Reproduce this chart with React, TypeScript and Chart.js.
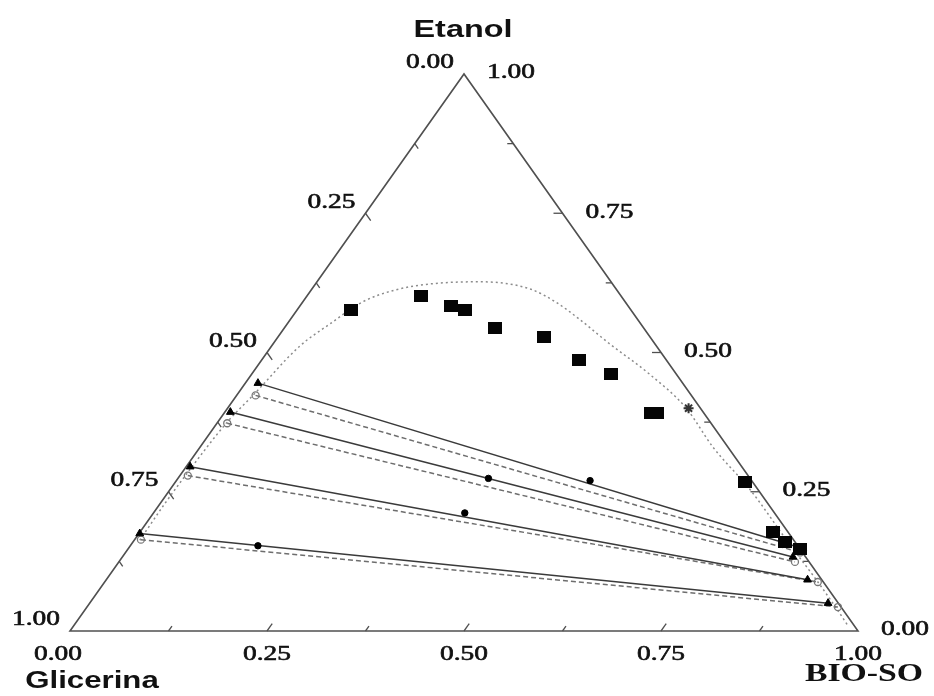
import React, { useEffect, useRef } from "react";
import { Chart, registerables } from "chart.js";
Chart.register(...registerables);

// Compositions are mass fractions: B = BIO-SO, E = Etanol (Glicerina = 1 - B - E)
const binodalExpB = [0.068, 0.144, 0.192, 0.213, 0.267, 0.337, 0.403, 0.456, 0.542, 0.550, 0.722, 0.803, 0.827, 0.852];
const binodalExpE = [0.577, 0.602, 0.584, 0.577, 0.544, 0.528, 0.486, 0.461, 0.391, 0.391, 0.268, 0.178, 0.160, 0.148];

const binodalCurveB = [0.007, 0.006, 0.007, 0.012, 0.021, 0.036, 0.054, 0.076, 0.106, 0.145, 0.207, 0.277, 0.322, 0.369, 0.425, 0.505, 0.582, 0.651, 0.737, 0.837, 0.898, 0.948, 0.983];
const binodalCurveE = [0.163, 0.230, 0.282, 0.375, 0.425, 0.512, 0.551, 0.591, 0.612, 0.623, 0.627, 0.614, 0.590, 0.558, 0.517, 0.461, 0.400, 0.330, 0.253, 0.154, 0.095, 0.045, 0.009];

// experimental tie lines (solid, filled triangles)
const tieExpLeftB = [0.016, 0.007, 0.005, 0.001];
const tieExpLeftE = [0.445, 0.393, 0.295, 0.175];
const tieExpRightB = [0.856, 0.851, 0.890, 0.937];
const tieExpRightE = [0.148, 0.133, 0.092, 0.050];

// calculated tie lines (dashed, open circles)
const tieCalcLeftB = [0.024, 0.013, 0.010, 0.008];
const tieCalcLeftE = [0.423, 0.373, 0.279, 0.164];
const tieCalcRightB = [0.856, 0.858, 0.905, 0.953];
const tieCalcRightE = [0.141, 0.124, 0.088, 0.043];

// overall (feed) compositions
const feedB = [0.525, 0.394, 0.395, 0.162];
const feedE = [0.270, 0.274, 0.212, 0.153];

// plait point
const plaitB = [0.585];
const plaitE = [0.400];

const tickValues = [0, 0.25, 0.5, 0.75, 1];
const tickLabels = ["0.00", "0.25", "0.50", "0.75", "1.00"];
const minorTickValues = [0.125, 0.375, 0.625, 0.875];
const axisTitles = ["Etanol", "Glicerina", "BIO-SO"];

const toXY = (b: number, e: number) => ({ x: b + e / 2, y: e });
const pts = (B: number[], E: number[]) => B.map((b, i) => toXY(b, E[i]));

function drawText(ctx: CanvasRenderingContext2D, text: string, cx: number, cy: number, font: string, sx: number, color = "#1c1c1c", stroke = 0) {
  ctx.save();
  ctx.translate(cx, cy);
  ctx.scale(sx, 1);
  ctx.font = font;
  ctx.fillStyle = color;
  ctx.textAlign = "center";
  ctx.textBaseline = "middle";
  ctx.fillText(text, 0, 0);
  if (stroke > 0) {
    ctx.strokeStyle = color;
    ctx.lineWidth = stroke;
    ctx.strokeText(text, 0, 0);
  }
  ctx.restore();
}

const ternaryPlugin = {
  id: "ternary",
  beforeDatasetsDraw(chart: any) {
    const { ctx } = chart;
    const xs = chart.scales.x, ys = chart.scales.y;
    const P = (b: number, e: number) => [xs.getPixelForValue(b + e / 2), ys.getPixelForValue(e)];
    ctx.save();
    ctx.strokeStyle = "#505050";
    ctx.lineWidth = 1.6;
    ctx.beginPath();
    const a = P(0, 0), b = P(1, 0), c = P(0, 1);
    ctx.moveTo(a[0], a[1]);
    ctx.lineTo(b[0], b[1]);
    ctx.lineTo(c[0], c[1]);
    ctx.closePath();
    ctx.stroke();
    const tick = (p0: number[], p1: number[], len: number) => {
      const dx = p1[0] - p0[0], dy = p1[1] - p0[1];
      const n = Math.hypot(dx, dy);
      ctx.beginPath();
      ctx.moveTo(p0[0], p0[1]);
      ctx.lineTo(p0[0] + (dx / n) * len, p0[1] + (dy / n) * len);
      ctx.stroke();
    };
    ctx.lineWidth = 1.3;
    const all = [...tickValues.slice(1, -1).map((v) => [v, 9]), ...minorTickValues.map((v) => [v, 6])];
    all.forEach(([v, len]) => {
      tick(P(v, 0), P(v, 0.05), len);
      tick(P(0, 1 - v), P(0.05, 1 - v - 0.05), len);
      tick(P(1 - v, v), P(1 - v - 0.05, v), len);
    });
    ctx.restore();
  },
  afterDraw(chart: any) {
    const { ctx } = chart;
    const xs = chart.scales.x, ys = chart.scales.y;
    const P = (b: number, e: number) => [xs.getPixelForValue(b + e / 2), ys.getPixelForValue(e)];
    const numFont = "20px 'Liberation Serif', 'DejaVu Serif', serif";
    tickValues.forEach((v, i) => {
      const lbl = tickLabels[i];
      const l = P(0, 1 - v);
      drawText(ctx, lbl, l[0] - 34, l[1] - 11, numFont, 1.37, "#111", 0.6);
      const r = P(1 - v, v);
      drawText(ctx, lbl, r[0] + 47, r[1] - 1, numFont, 1.37, "#111", 0.6);
      const bt = P(v, 0);
      drawText(ctx, lbl, bt[0] + (v === 0 ? -12 : 0), bt[1] + 24, numFont, 1.37, "#111", 0.6);
    });
    const top = P(0, 1), gl = P(0, 0), bs = P(1, 0);
    drawText(ctx, axisTitles[0], top[0] - 1, top[1] - 44, "bold 24px 'Liberation Sans', Arial, sans-serif", 1.35, "#111");
    drawText(ctx, axisTitles[1], gl[0] + 22, gl[1] + 50, "bold 24px 'Liberation Sans', Arial, sans-serif", 1.3, "#111");
    drawText(ctx, axisTitles[2], bs[0] + 6, bs[1] + 44, "bold 25px 'Liberation Serif', 'Times New Roman', serif", 1.35, "#111");
  },
};

function makeSquare() {
  const c = document.createElement("canvas");
  c.width = 14;
  c.height = 12;
  const g = c.getContext("2d")!;
  g.fillStyle = "#050505";
  g.fillRect(0, 0, 14, 12);
  return c;
}

export default function App() {
  const ref = useRef<HTMLCanvasElement | null>(null);
  useEffect(() => {
    document.body.style.margin = "0";
    const square = makeSquare();
    const datasets: any[] = [];
    datasets.push({
      label: "binodal",
      data: pts(binodalCurveB, binodalCurveE),
      showLine: true,
      borderColor: "#8c8c8c",
      borderWidth: 1.5,
      borderDash: [2, 3],
      pointRadius: 0,
      cubicInterpolationMode: "monotone",
      order: 10,
    });
    tieExpLeftB.forEach((_, i) => {
      datasets.push({
        label: "tieExp" + i,
        data: [toXY(tieExpLeftB[i], tieExpLeftE[i]), toXY(tieExpRightB[i], tieExpRightE[i])],
        showLine: true,
        borderColor: "#3a3a3a",
        borderWidth: 1.5,
        pointStyle: "triangle",
        pointRadius: 4.5,
        pointBackgroundColor: "#000",
        pointBorderColor: "#000",
        pointBorderWidth: 1,
        order: 5,
      });
      datasets.push({
        label: "tieCalc" + i,
        data: [toXY(tieCalcLeftB[i], tieCalcLeftE[i]), toXY(tieCalcRightB[i], tieCalcRightE[i])],
        showLine: true,
        borderColor: "#6e6e6e",
        borderWidth: 1.5,
        borderDash: [5, 3],
        pointStyle: "circle",
        pointRadius: 3.5,
        pointBackgroundColor: "rgba(255,255,255,0)",
        pointBorderColor: "#777",
        pointBorderWidth: 1.3,
        order: 6,
      });
    });
    datasets.push({
      label: "feed",
      data: pts(feedB, feedE),
      showLine: false,
      pointStyle: "circle",
      pointRadius: 3.2,
      pointBackgroundColor: "#000",
      pointBorderColor: "#000",
      order: 2,
    });
    datasets.push({
      label: "plait",
      data: pts(plaitB, plaitE),
      showLine: false,
      pointStyle: "star",
      pointRadius: 5,
      pointBorderColor: "#333",
      pointBorderWidth: 2,
      order: 2,
    });
    datasets.push({
      label: "binodalExp",
      data: pts(binodalExpB, binodalExpE),
      showLine: false,
      pointStyle: square,
      pointRadius: 7,
      order: 1,
    });
    const chart = new Chart(ref.current!, {
      type: "scatter",
      data: { datasets },
      options: {
        responsive: false,
        maintainAspectRatio: false,
        animation: false,
        layout: { padding: { left: 70, right: 76, top: 74, bottom: 65 } },
        scales: {
          x: { type: "linear", min: 0, max: 1, display: false },
          y: { type: "linear", min: 0, max: 1, display: false },
        },
        plugins: { legend: { display: false }, tooltip: { enabled: false } },
        datasets: { scatter: { clip: false } } as any,
        elements: { line: { fill: false } },
      },
      plugins: [ternaryPlugin],
    } as any);
    return () => chart.destroy();
  }, []);
  return (
    <div style={{ width: 934, height: 696, background: "#fff" }}>
      <canvas ref={ref} width={934} height={696} style={{ display: "block" }} />
    </div>
  );
}
